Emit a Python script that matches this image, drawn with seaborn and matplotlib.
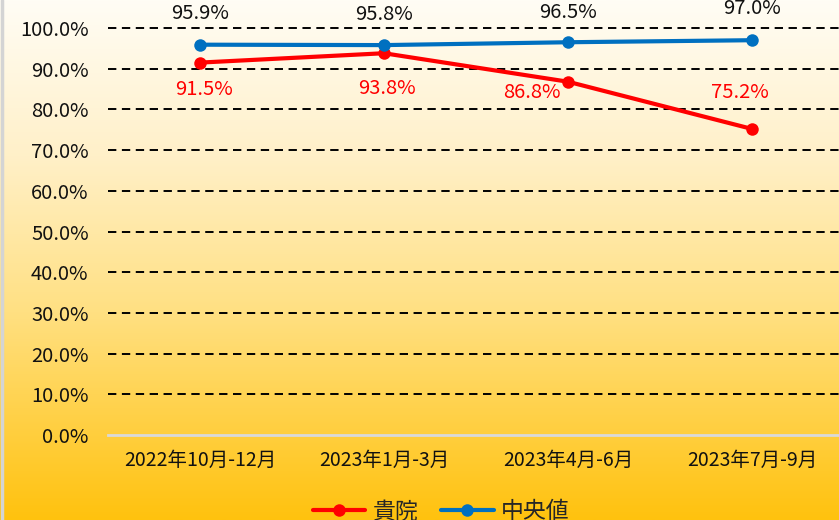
import matplotlib.pyplot as plt
import numpy as np
import pandas as pd
import seaborn as sns

periods = ["2022年10月-12月", "2023年1月-3月", "2023年4月-6月", "2023年7月-9月"]
hospital = [91.5, 93.8, 86.8, 75.2]
median = [95.9, 95.8, 96.5, 97.0]
series_names = ["貴院", "中央値"]
y_ticks = [0, 10, 20, 30, 40, 50, 60, 70, 80, 90, 100]

# label offsets in pixels (dx, dy), tuned by eye
hospital_offsets = [(4, -27), (3, -35), (-36, -11), (-12, 36)]
median_offsets = [(0, 31), (0, 31), (0, 30), (0, 32)]

RED = "#ff0000"
BLUE = "#0070c0"

sns.set_theme(style="white")
plt.rcParams["font.family"] = ["Liberation Sans Narrow", "Noto Sans CJK JP", "DejaVu Sans"]
plt.rcParams["lines.scale_dashes"] = False

W, H = 839, 520
fig = plt.figure(figsize=(W / 100, H / 100), dpi=100)

# background gradient
bg = fig.add_axes([0, 0, 1, 1], zorder=-10)
t = np.linspace(0, 1, 256)
stops = np.array([[255, 253, 245], [255, 240, 200], [255, 224, 130], [255, 194, 14]]) / 255
pos = [0, 0.3, 0.6, 1]
grad = np.stack([np.interp(t, pos, stops[:, i]) for i in range(3)], axis=-1)
bg.imshow(grad[:, None, :], aspect="auto", extent=[0, W, H, 0])
bg.axvline(1.5, color="#d4d4d4", lw=2.5)
bg.set_xlim(0, W)
bg.set_ylim(H, 0)
bg.axis("off")

ax = fig.add_axes([108 / W, 85 / H, 736 / W, 407 / H])
ax.set_facecolor("none")

df = pd.DataFrame({
    "period": periods * 2,
    "value": hospital + median,
    "series": [series_names[0]] * 4 + [series_names[1]] * 4,
})
sns.lineplot(
    data=df, x="period", y="value", hue="series", sort=False,
    palette=[RED, BLUE], marker="o", markersize=9, markeredgewidth=0,
    linewidth=3, ax=ax, legend=True, zorder=5,
)

for i, v in enumerate(hospital):
    ax.annotate(f"{v:.1f}%", (i, v), xytext=hospital_offsets[i], textcoords="offset pixels",
                ha="center", va="center", color=RED, fontsize=14.5, annotation_clip=False)
for i, v in enumerate(median):
    ax.annotate(f"{v:.1f}%", (i, v), xytext=median_offsets[i], textcoords="offset pixels",
                ha="center", va="center", color="#111111", fontsize=14.5, annotation_clip=False)

ax.set_xlim(-0.5, 3.5)
ax.set_ylim(0, 100)
ax.set_yticks(y_ticks)
ax.set_yticklabels([f"{v:.1f}%" for v in y_ticks])
ax.yaxis.grid(True, color="black", linestyle=(0, (6, 4)), linewidth=1.4)
for gl in ax.get_ygridlines():
    gl.set_clip_on(False)
ax.get_ygridlines()[0].set_visible(False)
ax.xaxis.grid(False)
ax.tick_params(axis="y", length=0, pad=14, labelsize=14.5, labelcolor="#111111")
ax.tick_params(axis="x", length=0, pad=11, labelsize=14, labelcolor="#111111")
ax.set_xlabel("")
ax.set_ylabel("")
for s in ["left", "top", "right"]:
    ax.spines[s].set_visible(False)
ax.spines["bottom"].set_color("#d9d9d9")
ax.spines["bottom"].set_linewidth(2)

handles, labels = ax.get_legend_handles_labels()
ax.legend(handles, labels, loc="center", bbox_to_anchor=(441 / W, 8 / H),
          bbox_transform=fig.transFigure, frameon=False, ncol=2, fontsize=16.5,
          handlelength=2.3, handletextpad=0.3, columnspacing=1.0)

fig.savefig("out.png", dpi=100)
